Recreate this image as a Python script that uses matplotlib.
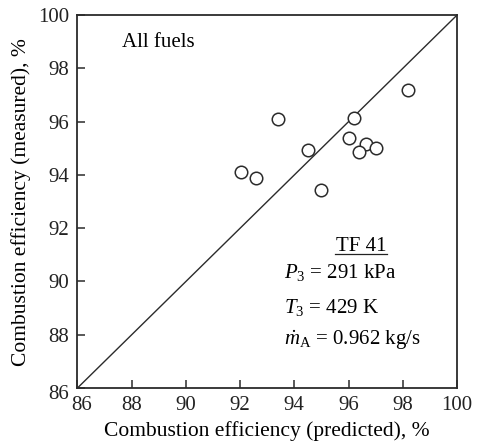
"""
Measured vs predicted combustion efficiency, TF 41 combustor, all fuels.
"""

import matplotlib

matplotlib.use("Agg")
import matplotlib.pyplot as plt
from matplotlib.transforms import ScaledTranslation

# predicted / measured combustion efficiency, %
predicted = [93.4, 96.2, 94.5, 96.0, 96.65, 97.0, 96.4, 92.05, 92.6, 95.0, 98.2]
measured = [96.1, 96.15, 94.95, 95.4, 95.15, 95.0, 94.85, 94.1, 93.9, 93.45, 97.2]

ticks = [86, 88, 90, 92, 94, 96, 98, 100]

plt.rcParams["font.family"] = ["Liberation Serif", "DejaVu Serif"]
plt.rcParams["mathtext.fontset"] = "custom"
plt.rcParams["mathtext.rm"] = "Liberation Serif"
plt.rcParams["mathtext.it"] = "Liberation Serif:italic"

figure = plt.figure(figsize=(4.78, 4.45), dpi=100)
axis = figure.add_axes([0.162, 0.128, 0.794, 0.838])

ink = "#2b2b2b"
text_size = 15

axis.plot([86, 100], [86, 100], color=ink, linewidth=1.0)
axis.plot(
    predicted,
    measured,
    linestyle="none",
    marker="o",
    markersize=9,
    markerfacecolor="white",
    markeredgecolor=ink,
    markeredgewidth=1.1,
)

axis.set_xlim(86, 100)
axis.set_ylim(86, 100)
axis.set_xticks(ticks)
axis.set_yticks(ticks)
axis.tick_params(
    direction="in", length=6, width=1.1, color=ink,
    labelsize=text_size, labelcolor="#222222", pad=6,
)
for spine in axis.spines.values():
    spine.set_color(ink)
    spine.set_linewidth(1.3)

# the two "86" labels at the corner are nudged apart, as in the source
figure.canvas.draw()
first_x = axis.get_xticklabels()[0]
first_x.set_transform(first_x.get_transform() + ScaledTranslation(0.045, 0, figure.dpi_scale_trans))
first_y = axis.get_yticklabels()[0]
first_y.set_transform(first_y.get_transform() + ScaledTranslation(0, -0.035, figure.dpi_scale_trans))

axis.set_xlabel("Combustion efficiency (predicted), %", fontsize=15.5, labelpad=4)
axis.set_ylabel("Combustion efficiency (measured), %", fontsize=15.5, labelpad=5)

axis.text(87.65, 98.8, "All fuels", fontsize=text_size, va="baseline", ha="left")

axis.text(96.47, 91.15, "TF 41", fontsize=text_size, ha="center", va="baseline")
axis.plot([95.51, 97.42], [91.03, 91.03], color="#222222", linewidth=0.9)
axis.text(93.63, 90.12, r"$P_3$ = 291 kPa", fontsize=text_size, va="baseline")
axis.text(93.63, 88.83, r"$T_3$ = 429 K", fontsize=text_size, va="baseline")
axis.text(93.63, 87.61, r"$\dot{m}_{\mathrm{A}}$ = 0.962 kg/s", fontsize=text_size, va="baseline")

figure.savefig("out.png", dpi=100)
plt.close(figure)
